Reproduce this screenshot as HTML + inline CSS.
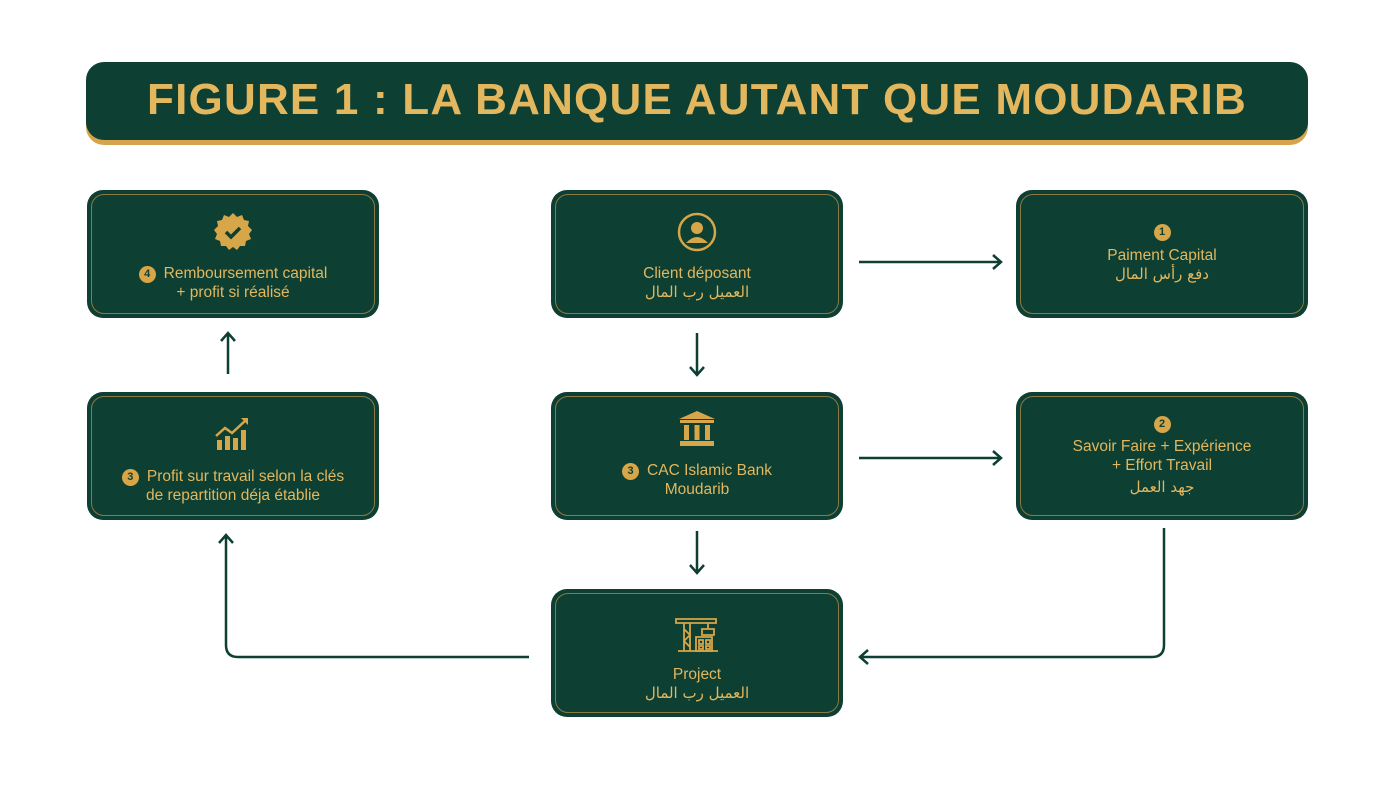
<!DOCTYPE html>
<html><head><meta charset="utf-8"><style>
body{margin:0;width:1399px;height:797px;background:#fff;position:relative;overflow:hidden;font-family:"Liberation Sans","DejaVu Sans",sans-serif;}
.title{position:absolute;left:86px;top:62px;width:1222px;height:78px;background:#0d3f33;border-radius:18px;box-shadow:0 5px 0 #d5a44c;color:#e2b75e;font-weight:bold;font-size:44px;text-align:center;line-height:76px;letter-spacing:1.2px}
.box{position:absolute;width:292px;height:128px;background:#0d3f33;border-radius:16px;box-sizing:border-box;color:#e2b75e;text-align:center;font-size:15.5px;line-height:19px}
.box::after{content:"";position:absolute;left:4px;top:4px;right:4px;bottom:4px;border:1px solid #8a7a45;border-radius:13px}
.n{display:inline-block;width:17px;height:17px;border-radius:50%;background:#d6a648;color:#0d3f33;font-size:11px;font-weight:bold;line-height:17px;text-align:center;margin-right:8px;vertical-align:1px}
.ar{font-family:"DejaVu Sans",sans-serif;font-size:15px}
.ic{position:absolute;left:0;right:0;display:flex;justify-content:center}
.tx{position:absolute;left:0;right:0}
</style></head><body>
<div class="title">FIGURE 1 : LA BANQUE AUTANT QUE MOUDARIB</div>

<svg style="position:absolute;left:0;top:0" width="1399" height="797">
<g stroke="#0d3f33" stroke-width="2.5" fill="none">
<path d="M859 262H1001M993 255l8 7-8 7"/>
<path d="M859 458H1001M993 451l8 7-8 7"/>
<path d="M697 333V374M690 367l7 8 7-8"/>
<path d="M697 531V572M690 565l7 8 7-8"/>
<path d="M228 374V333M221 341l7-8 7 8"/>
<path d="M529 657H238Q226 657 226 645V535M219 543l7-8 7 8"/>
<path d="M1164 528V645Q1164 657 1152 657H860M868 650l-8 7 8 7"/>
</g></svg>

<div class="box" style="left:87px;top:190px">
 <div class="ic" style="top:22px"><svg width="40" height="40" viewBox="0 0 40 40"><polygon fill="#d6a648" points="20,1 24,5 29,3 31,8 36,9 35,14 39,18 36,22 38,27 33,29 32,34 27,34 24,38 20,35 16,38 13,34 8,34 7,29 2,27 4,22 1,18 5,14 4,9 9,8 11,3 16,5"/><path d="M13 20l5 5 9-9" stroke="#0d3f33" stroke-width="3.5" fill="none"/></svg></div>
 <div class="tx" style="top:74px"><span class="n">4</span>Remboursement capital<br>+ profit si réalisé</div>
</div>
<div class="box" style="left:551px;top:190px">
 <div class="ic" style="top:22px"><svg width="40" height="40" viewBox="0 0 40 40"><circle cx="20" cy="20" r="18" stroke="#d6a648" stroke-width="2.5" fill="none"/><circle cx="20" cy="16" r="6" fill="#d6a648"/><path d="M9 31q11-12 22 0z" fill="#d6a648"/></svg></div>
 <div class="tx" style="top:74px">Client déposant<br><span class="ar">العميل رب المال</span></div>
</div>
<div class="box" style="left:1016px;top:190px">
 <div class="tx" style="top:32px"><span class="n" style="margin:0">1</span></div>
 <div class="tx" style="top:56px">Paiment Capital<br><span class="ar">دفع رأس المال</span></div>
</div>

<div class="box" style="left:87px;top:392px">
 <div class="ic" style="top:22px"><svg width="40" height="38" viewBox="0 0 40 38"><g fill="#d6a648"><rect x="4" y="26" width="5" height="10"/><rect x="12" y="22" width="5" height="14"/><rect x="20" y="24" width="5" height="12"/><rect x="28" y="16" width="5" height="20"/></g><path d="M3 22l9-8 7 5 14-13" stroke="#d6a648" stroke-width="2.5" fill="none"/><path d="M28 4h7v7z" fill="#d6a648"/></svg></div>
 <div class="tx" style="top:75px"><span class="n">3</span>Profit sur travail selon la clés<br>de repartition déja établie</div>
</div>
<div class="box" style="left:551px;top:392px">
 <div class="ic" style="top:18px"><svg width="40" height="38" viewBox="0 0 40 38"><g fill="#d6a648"><path d="M20 1L38 9H2z"/><rect x="3" y="10" width="34" height="3"/><rect x="7" y="15" width="5" height="15"/><rect x="17.5" y="15" width="5" height="15"/><rect x="28" y="15" width="5" height="15"/><rect x="3" y="31" width="34" height="5"/></g></svg></div>
 <div class="tx" style="top:69px"><span class="n">3</span>CAC Islamic Bank<br>Moudarib</div>
</div>
<div class="box" style="left:1016px;top:392px">
 <div class="tx" style="top:22px"><span class="n" style="margin:0">2</span></div>
 <div class="tx" style="top:45px">Savoir Faire + Expérience<br>+ Effort Travail<br><span class="ar" style="line-height:24px">جهد العمل</span></div>
</div>

<div class="box" style="left:551px;top:589px">
 <div class="ic" style="top:24px"><svg width="46" height="40" viewBox="0 0 46 40" stroke="#d6a648" stroke-width="1.8" fill="none"><path d="M2 6h40v4H2zM10 10v28M16 10v28M10 16l6 6-6 6 6 6M34 10v6M28 16h12v6H28zM22 24h16v14H22z"/><path d="M25 27h4v4h-4zM32 27h4v4h-4zM25 33h4v3h-4zM32 33h4v3h-4zM4 38h40"/></svg></div>
 <div class="tx" style="top:76px">Project<br><span class="ar">العميل رب المال</span></div>
</div>
</body></html>
